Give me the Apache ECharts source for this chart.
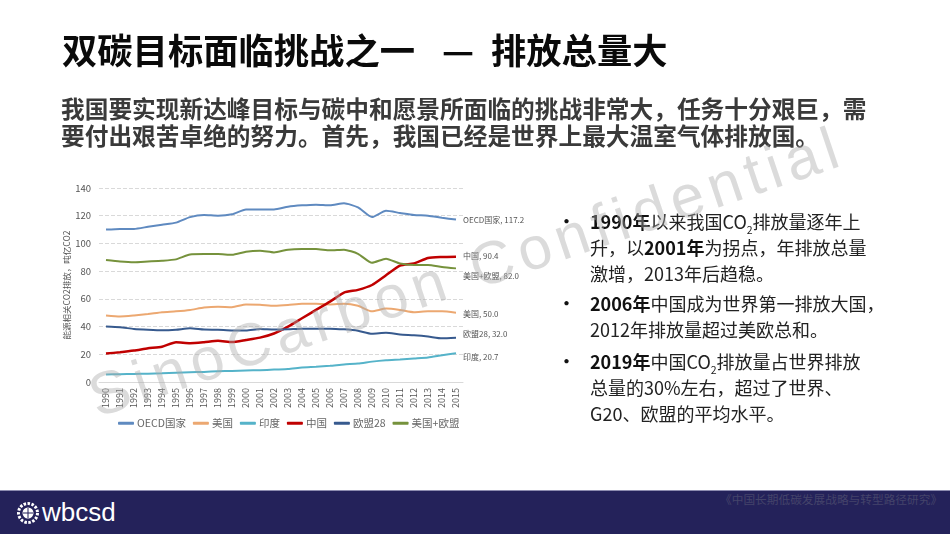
<!DOCTYPE html>
<html>
<head>
<meta charset="utf-8">
<style>
html,body{margin:0;padding:0;background:#fff;overflow:hidden}
#page{position:relative;width:950px;height:535px;font-family:"Noto Sans CJK SC",sans-serif;color:#111}
#main{position:absolute;left:0;top:0;width:950px;height:535px}
.t{position:absolute;white-space:nowrap}
.title{top:26px;font-size:35.3px;line-height:46px;font-weight:700;color:#0a0a0a}
.lead{left:61px;font-size:23.7px;line-height:28px;font-weight:700;color:#3a3a3a}
.bl{left:590px;font-size:18px;line-height:26px;color:#222}
.dot{left:558px;font-size:17px;line-height:26px;color:#111;font-weight:700}
.bl sub{font-size:10.5px;line-height:0}
.bl b{color:#111}
#wm{left:102px;top:362px;font-family:"Liberation Sans",sans-serif;font-size:60px;line-height:70px;letter-spacing:6.2px;color:rgba(170,170,170,.42);transform:rotate(-18.7deg);transform-origin:0 100%;pointer-events:none}
#bar{position:absolute;left:0;top:490px;width:950px;height:44px;background:#24225a;border-top:1px solid #8d8cb0;box-sizing:border-box}
#src{left:720px;top:491px;font-size:11.7px;line-height:16px;color:#44446a}
#logo{left:42px;top:495px;font-family:"Liberation Sans",sans-serif;font-size:26px;line-height:34px;color:#fff}
#mark{position:absolute;left:16px;top:501px}
</style>
</head>
<body>
<div id="page">
  <div id="main"></div>
  <div class="t title" style="left:62px">双碳目标面临挑战之一</div>
  <div class="t title" style="left:442px">—</div>
  <div class="t title" style="left:491px">排放总量大</div>
  <div class="t lead" style="top:94px">我国要实现新达峰目标与碳中和愿景所面临的挑战非常大，任务十分艰巨，需</div>
  <div class="t lead" style="top:121px">要付出艰苦卓绝的努力。首先，我国已经是世界上最大温室气体排放国。</div>

  <div class="t dot" style="top:208px">•</div>
  <div class="t bl" style="top:208px"><b>1990年</b>以来我国CO<sub>2</sub>排放量逐年上</div>
  <div class="t bl" style="top:234px">升，以<b>2001年</b>为拐点，年排放总量</div>
  <div class="t bl" style="top:260px">激增，2013年后趋稳。</div>
  <div class="t dot" style="top:290px">•</div>
  <div class="t bl" style="top:290px"><b>2006年</b>中国成为世界第一排放大国，</div>
  <div class="t bl" style="top:316px">2012年排放量超过美欧总和。</div>
  <div class="t dot" style="top:348px">•</div>
  <div class="t bl" style="top:348px"><b>2019年</b>中国CO<sub>2</sub>排放量占世界排放</div>
  <div class="t bl" style="top:374px">总量的30%左右，超过了世界、</div>
  <div class="t bl" style="top:400px">G20、欧盟的平均水平。</div>

  <div class="t" id="wm">SinoCarbon Confidential</div>

  <div id="bar"></div>
  <div class="t" id="src">《中国长期低碳发展战略与转型路径研究》</div>
  <svg id="mark" width="24" height="24" viewBox="0 0 24 24">
    <circle cx="12" cy="12" r="9.5" fill="none" stroke="#fff" stroke-width="3" stroke-dasharray="2.5 1.5"/>
    <circle cx="12" cy="12" r="5.5" fill="#fff"/>
    <path d="M7 12h10M12 7v10" stroke="#24225a" stroke-width="1"/>
  </svg>
  <div class="t" id="logo">wbcsd</div>
</div>
<script src="https://cdn.jsdelivr.net/npm/echarts@6/dist/echarts.min.js"></script>
<script>
var years = ['1990','1991','1992','1993','1994','1995','1996','1997','1998','1999','2000','2001','2002','2003','2004','2005','2006','2007','2008','2009','2010','2011','2012','2013','2014','2015'];

var oecd = [110,110.5,110.5,112,113.5,115,119,120.5,120,121,124.5,124.5,124.5,126.5,127.5,128,127.5,129,126,119,123.5,122,120.5,120,118.5,117.2];
var usa = [48,47.3,48,49,50.3,51,52,53.7,54.3,54,56,55.8,55,55.5,56.5,56.5,56,56.5,55,51,53,52,50.3,51,51,50];
var india = [5.5,5.6,5.8,6,6.3,6.7,7,7.3,7.7,8,8.3,8.5,9,9.3,10.5,11,11.7,12.7,13.3,14.7,15.7,16.3,17,17.7,19.3,20.7];
var china = [20.5,21.5,22.7,24.3,25.5,28.7,28,28.7,29.7,28.8,30.3,32,35,40,46,52,58,64.5,66.5,70,77,84,85.5,89.5,90.2,90.4];
var eu28 = [40,39.5,38.3,37.7,37.3,37.7,38.7,37.8,37.7,37.2,37.2,38.2,37.8,38,38.5,38.5,38.5,38,37,34.8,35.5,34.3,33.7,32.8,31.5,32];
var usEu = [88,87,86.5,87,87.5,88.5,92,92.3,92.3,91.8,94,94.7,93.5,95.5,96,96,95,95.5,92.5,86,89,85.5,84.5,84.5,83,82];

var names = ['OECD国家','美国','印度','中国','欧盟28','美国+欧盟'];
var values = [oecd,usa,india,china,eu28,usEu];
var colors = ['#5f8ac0','#eca871','#55b3c9','#c00000','#375a8e','#76923c'];
var widths = [2,2,2,2.5,2,2];
// 折线末端标签的偏移
var labelOffsets = [[2,0],[2,1],[2,4],[2,-1],[2,-4],[2,8]];

var myChart = echarts.init(document.getElementById('main'));
var seriesList = [];
for(var i = 0; i < names.length; i++){
  (function(i){
    seriesList.push({
      name: names[i],
      type: 'line',
      data: values[i],
      smooth: 0.2,
      symbol: 'none',
      lineStyle: {color: colors[i], width: widths[i]},
      itemStyle: {color: colors[i]},
      endLabel: {
        show: true,
        color: '#555',
        fontSize: 8,
        distance: 5,
        offset: labelOffsets[i],
        formatter: function(p){ return names[i] + ', ' + values[i][values[i].length - 1].toFixed(1); }
      }
    });
  })(i);
}

myChart.setOption({
  animation: false,
  textStyle: {fontFamily: '"Noto Sans CJK SC",sans-serif'},
  legend: {
    data: names,
    left: 113,
    top: 413,
    icon: 'roundRect',
    itemWidth: 16,
    itemHeight: 3,
    itemGap: 7,
    textStyle: {color: '#666', fontSize: 10.5, padding: [0,0,0,-2]}
  },
  grid: {left: 99, right: 487, top: 188, height: 194},
  xAxis: {
    type: 'category',
    data: years,
    boundaryGap: true,
    axisLine: {lineStyle: {color: '#d9d9d9'}},
    axisTick: {show: false},
    axisLabel: {rotate: 90, interval: 0, color: '#555', fontSize: 9, margin: 6}
  },
  yAxis: {
    type: 'value',
    min: 0,
    max: 140,
    interval: 20,
    name: '能源相关CO2排放，吨亿CO2',
    nameLocation: 'middle',
    nameRotate: 90,
    nameGap: 26,
    nameTextStyle: {color: '#555', fontSize: 8.5},
    axisLine: {show: false},
    axisTick: {show: false},
    axisLabel: {color: '#555', fontSize: 9.5, margin: 8},
    splitLine: {lineStyle: {color: '#d9d9d9', type: 'dashed'}}
  },
  series: seriesList
});
</script>
</body>
</html>
